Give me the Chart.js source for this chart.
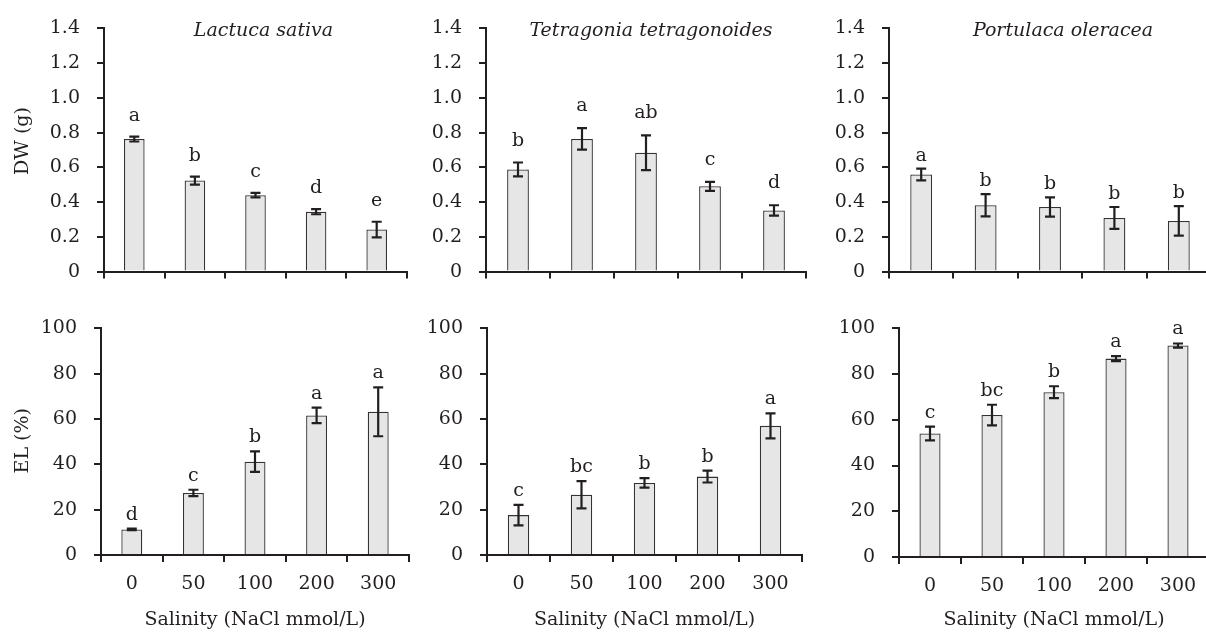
<!DOCTYPE html>
<html>
<head>
<meta charset="utf-8">
<script src="https://cdn.jsdelivr.net/npm/chart.js@4.4.0/dist/chart.umd.min.js"></script>
<style>
  html, body { margin: 0; padding: 0; background: #fff; overflow: hidden; }
  body { width: 1206px; height: 633px; position: relative; }
  canvas { position: absolute; }
</style>
</head>
<body>
<canvas id="dwLactuca" width="410" height="300" style="left:0;top:0"></canvas>
<canvas id="dwTetragonia" width="400" height="300" style="left:410px;top:0"></canvas>
<canvas id="dwPortulaca" width="410" height="300" style="left:810px;top:0"></canvas>
<canvas id="elLactuca" width="410" height="333" style="left:0;top:300px"></canvas>
<canvas id="elTetragonia" width="400" height="333" style="left:410px;top:300px"></canvas>
<canvas id="elPortulaca" width="410" height="333" style="left:810px;top:300px"></canvas>
<script>
// x categories and tick labels
const salinity = ['0', '50', '100', '200', '300'];
const dwTicks = ['0', '0.2', '0.4', '0.6', '0.8', '1.0', '1.2', '1.4'];
const elTicks = ['0', '20', '40', '60', '80', '100'];

// dry weight (g)
const dwLactuca = [0.763, 0.524, 0.44, 0.345, 0.242];
const dwLactucaErr = [0.014, 0.023, 0.013, 0.015, 0.045];
const dwLactucaSig = ['a', 'b', 'c', 'd', 'e'];

const dwTetragonia = [0.588, 0.764, 0.684, 0.491, 0.352];
const dwTetragoniaErr = [0.04, 0.062, 0.1, 0.026, 0.03];
const dwTetragoniaSig = ['b', 'a', 'ab', 'c', 'd'];

const dwPortulaca = [0.559, 0.382, 0.372, 0.309, 0.292];
const dwPortulacaErr = [0.034, 0.064, 0.055, 0.063, 0.085];
const dwPortulacaSig = ['a', 'b', 'b', 'b', 'b'];

// electrolyte leakage (%)
const elLactuca = [11.3, 27.4, 41.2, 61.6, 63.2];
const elLactucaErr = [0.3, 1.4, 4.5, 3.4, 10.8];
const elLactucaSig = ['d', 'c', 'b', 'a', 'a'];

const elTetragonia = [17.6, 26.6, 31.8, 34.6, 57];
const elTetragoniaErr = [4.5, 6, 2.1, 2.6, 5.5];
const elTetragoniaSig = ['c', 'bc', 'b', 'b', 'a'];

const elPortulaca = [54, 62.1, 72.1, 86.8, 92.5];
const elPortulacaErr = [3, 4.5, 2.6, 1.1, 0.9];
const elPortulacaSig = ['c', 'bc', 'b', 'a', 'a'];

const ink = '#231f20';
const serif = "'DejaVu Serif', serif";
Chart.defaults.font.family = serif;
Chart.defaults.font.size = 19;
Chart.defaults.color = ink;

// error bars, letters, species name and y title
const annotate = {
  id: 'annotate',
  afterDatasetsDraw(chart, args, o) {
    const ctx = chart.ctx;
    const y = chart.scales.y;
    const a = chart.chartArea;
    const vals = chart.data.datasets[0].data;
    ctx.save();
    ctx.strokeStyle = ink;
    ctx.fillStyle = ink;
    ctx.lineWidth = 2.2;
    ctx.font = '19px ' + serif;
    ctx.textAlign = 'center';
    ctx.textBaseline = 'alphabetic';
    chart.getDatasetMeta(0).data.forEach((bar, i) => {
      const top = y.getPixelForValue(vals[i] + o.errors[i]);
      const bot = y.getPixelForValue(vals[i] - o.errors[i]);
      ctx.beginPath();
      ctx.moveTo(bar.x, top); ctx.lineTo(bar.x, bot);
      ctx.moveTo(bar.x - 5, top); ctx.lineTo(bar.x + 5, top);
      ctx.moveTo(bar.x - 5, bot); ctx.lineTo(bar.x + 5, bot);
      ctx.stroke();
      ctx.fillText(o.letters[i], bar.x, top - o.gap);
    });
    if (o.title) {
      ctx.font = 'italic 19px ' + serif;
      ctx.fillText(o.title, (a.left + a.right) / 2 + o.titleShift, a.top + 8);
    }
    if (o.yTitle) {
      ctx.font = '19px ' + serif;
      ctx.textBaseline = 'middle';
      ctx.translate(23, (a.top + a.bottom) / 2 + o.yTitleShift);
      ctx.rotate(-Math.PI / 2);
      ctx.fillText(o.yTitle, 0, 0);
    }
    ctx.restore();
  }
};

function panel(id, p) {
  new Chart(document.getElementById(id), {
    type: 'bar',
    data: {
      labels: salinity,
      datasets: [{
        data: p.values,
        backgroundColor: '#e6e6e6',
        borderColor: '#333333',
        borderWidth: 1.3,
        categoryPercentage: 1,
        barPercentage: 0.34
      }]
    },
    options: {
      responsive: false,
      animation: false,
      layout: { padding: { left: 0, top: p.top, right: p.right, bottom: 0 } },
      plugins: {
        legend: { display: false },
        tooltip: { enabled: false },
        annotate: {
          errors: p.errors, letters: p.letters, gap: p.gap,
          title: p.title, titleShift: p.titleShift || 0,
          yTitle: p.yTitle, yTitleShift: p.yTitleShift || 0
        }
      },
      scales: {
        x: {
          offset: true,
          grid: { offset: true, drawOnChartArea: false, drawTicks: true, tickLength: 7, color: ink, lineWidth: 2 },
          border: { display: true, color: ink, width: 2 },
          ticks: { display: p.xLabels, padding: 11 },
          title: { display: p.xLabels, text: 'Salinity (NaCl mmol/L)', padding: { top: 0, bottom: 2 } },
          afterFit: s => { s.height = p.xHeight; }
        },
        y: {
          min: 0,
          max: p.max,
          grid: { drawOnChartArea: false, drawTicks: true, tickLength: 7, color: ink, lineWidth: 2 },
          border: { display: true, color: ink, width: 2 },
          ticks: { stepSize: p.step, padding: 17, callback: (v, i) => p.ticks[i] },
          afterFit: s => { s.width = p.yWidth; }
        }
      }
    },
    plugins: [annotate]
  });
}

panel('dwLactuca', { values: dwLactuca, errors: dwLactucaErr, letters: dwLactucaSig, max: 1.4, step: 0.2, ticks: dwTicks,
  yTitle: 'DW (g)', yTitleShift: -9, title: 'Lactuca sativa', titleShift: 8, gap: 16,
  yWidth: 104, top: 28, right: 3, xHeight: 22, xLabels: false });
panel('dwTetragonia', { values: dwTetragonia, errors: dwTetragoniaErr, letters: dwTetragoniaSig, max: 1.4, step: 0.2, ticks: dwTicks,
  title: 'Tetragonia tetragonoides', titleShift: 5, gap: 17,
  yWidth: 76, top: 27, right: 4, xHeight: 22, xLabels: false });
panel('dwPortulaca', { values: dwPortulaca, errors: dwPortulacaErr, letters: dwPortulacaSig, max: 1.4, step: 0.2, ticks: dwTicks,
  title: 'Portulaca oleracea', titleShift: 13, gap: 8,
  yWidth: 79, top: 27, right: 9, xHeight: 23, xLabels: false });
panel('elLactuca', { values: elLactuca, errors: elLactucaErr, letters: elLactucaSig, max: 100, step: 20, ticks: elTicks,
  yTitle: 'EL (%)', yTitleShift: -1, gap: 9,
  yWidth: 101, top: 13, right: 1, xHeight: 78, xLabels: true });
panel('elTetragonia', { values: elTetragonia, errors: elTetragoniaErr, letters: elTetragoniaSig, max: 100, step: 20, ticks: elTicks,
  gap: 9, yWidth: 77, top: 14, right: 8, xHeight: 78, xLabels: true });
panel('elPortulaca', { values: elPortulaca, errors: elPortulacaErr, letters: elPortulacaSig, max: 100, step: 20, ticks: elTicks,
  gap: 9, yWidth: 89, top: 21, right: 11, xHeight: 76, xLabels: true });
</script>
</body>
</html>
